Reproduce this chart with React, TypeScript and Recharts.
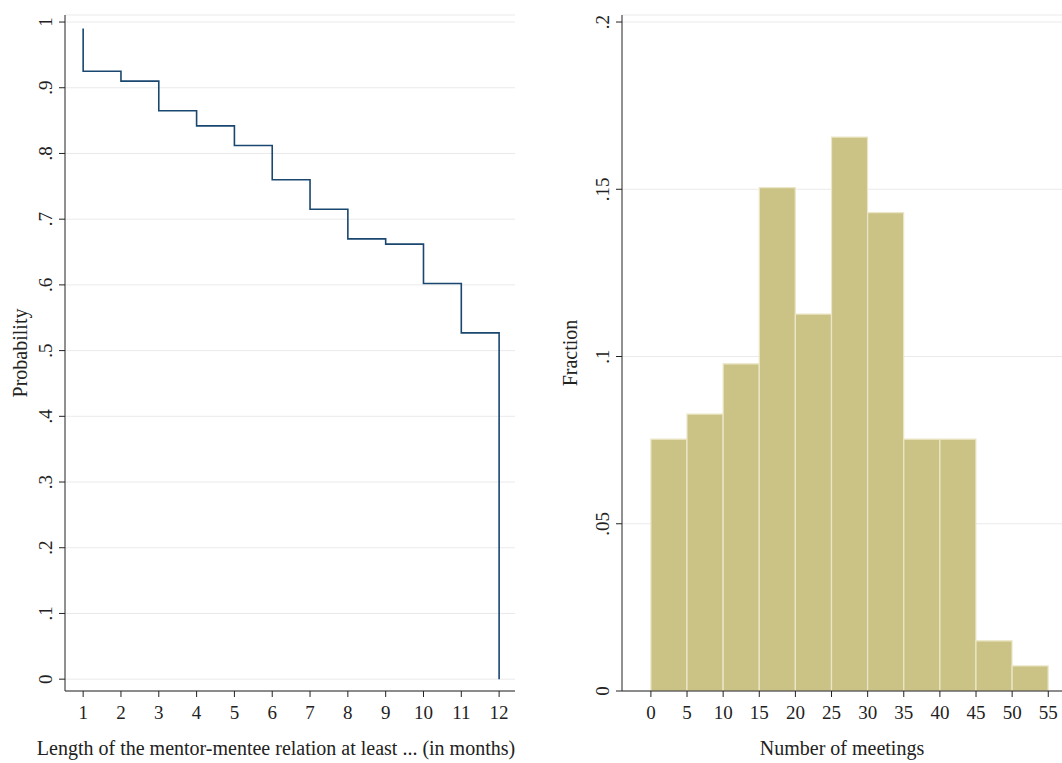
import { LineChart, Line, BarChart, Bar, XAxis, YAxis, CartesianGrid } from 'recharts';

const months = [1, 1, 2, 3, 4, 5, 6, 7, 8, 9, 10, 11, 12, 12];
const survival = [0.99, 0.925, 0.91, 0.865, 0.842, 0.812, 0.76, 0.715, 0.67, 0.662, 0.602, 0.527, 0.527, 0];
const binMids = [2.5, 7.5, 12.5, 17.5, 22.5, 27.5, 32.5, 37.5, 42.5, 47.5, 52.5];
const fractions = [0.0753, 0.0828, 0.0978, 0.1505, 0.1127, 0.1656, 0.143, 0.0753, 0.0753, 0.015, 0.0075];
const probTicks = [0, 0.1, 0.2, 0.3, 0.4, 0.5, 0.6, 0.7, 0.8, 0.9, 1];
const fracTicks = [0, 0.05, 0.1, 0.15, 0.2];
const monthTicks = [1, 2, 3, 4, 5, 6, 7, 8, 9, 10, 11, 12];
const meetTicks = [0, 5, 10, 15, 20, 25, 30, 35, 40, 45, 50, 55];

const survData = months.map((m, i) => ({ m, p: survival[i] }));
const histData = binMids.map((x, i) => ({ x, f: fractions[i] }));

const FONT = 'Liberation Serif, Times New Roman, serif';
const fmt = (v: number) => (v === 0 ? '0' : v === 1 ? '1' : String(v).replace(/^0/, ''));

function RotTick(props: any) {
  const { x, y, payload } = props;
  return (
    <text x={x - 5} y={y} transform={`rotate(-90 ${x - 5} ${y})`} textAnchor="middle"
      fontSize={19} fontFamily={FONT} fill="#222">
      {fmt(payload.value)}
    </text>
  );
}

function XTick(props: any) {
  const { x, y, payload } = props;
  return (
    <text x={x} y={y + 20} textAnchor="middle" fontSize={19} fontFamily={FONT} fill="#222">
      {payload.value}
    </text>
  );
}

const labelStyle = { fontSize: 20, fontFamily: FONT, fill: '#222' };

export default function App() {
  return (
    <div style={{ position: 'absolute', left: 0, top: 0, width: 1062, height: 763, background: '#fff', fontFamily: FONT }}>
      <div style={{ position: 'absolute', left: 0, top: 0 }}>
        <LineChart width={530} height={763} data={survData} margin={{ top: 15, right: 15, left: 0, bottom: 0 }}>
          <CartesianGrid vertical={false} stroke="#eaeaea" />
          <XAxis dataKey="m" type="number" domain={[0.52, 12.42]} ticks={monthTicks} allowDataOverflow
            height={72} tick={<XTick />} stroke="#222" tickSize={6}
            label={{ value: 'Length of the mentor-mentee relation at least ... (in months)', position: 'insideBottom', offset: 8, dx: -14, style: labelStyle }} />
          <YAxis type="number" domain={[-0.018, 1.0107]} ticks={probTicks} allowDataOverflow width={65}
            tick={<RotTick />} stroke="#222" tickSize={6}
            label={{ value: 'Probability', angle: -90, position: 'insideLeft', offset: 20, style: { ...labelStyle, textAnchor: 'middle' } }} />
          <Line type="stepAfter" dataKey="p" stroke="#1a476f" strokeWidth={1.6} dot={false} isAnimationActive={false} />
        </LineChart>
      </div>
      <div style={{ position: 'absolute', left: 530, top: 0 }}>
        <BarChart width={532} height={763} data={histData} margin={{ top: 15, right: 0, left: 0, bottom: 0 }} barGap={0}>
          <CartesianGrid vertical={false} stroke="#eaeaea" />
          <XAxis dataKey="x" type="number" domain={[-4, 56.9]} ticks={meetTicks} allowDataOverflow
            height={72} tick={<XTick />} stroke="#222" tickSize={6}
            label={{ value: 'Number of meetings', position: 'insideBottom', offset: 8, style: labelStyle }} />
          <YAxis type="number" domain={[0, 0.2021]} ticks={fracTicks} allowDataOverflow width={92}
            tick={<RotTick />} stroke="#222" tickSize={6}
            label={{ value: 'Fraction', angle: -90, position: 'insideLeft', offset: 40, style: { ...labelStyle, textAnchor: 'middle' } }} />
          <Bar dataKey="f" fill="#cbc286" stroke="#ebe6c6" strokeWidth={1.2} barSize={36} isAnimationActive={false} />
        </BarChart>
      </div>
    </div>
  );
}
